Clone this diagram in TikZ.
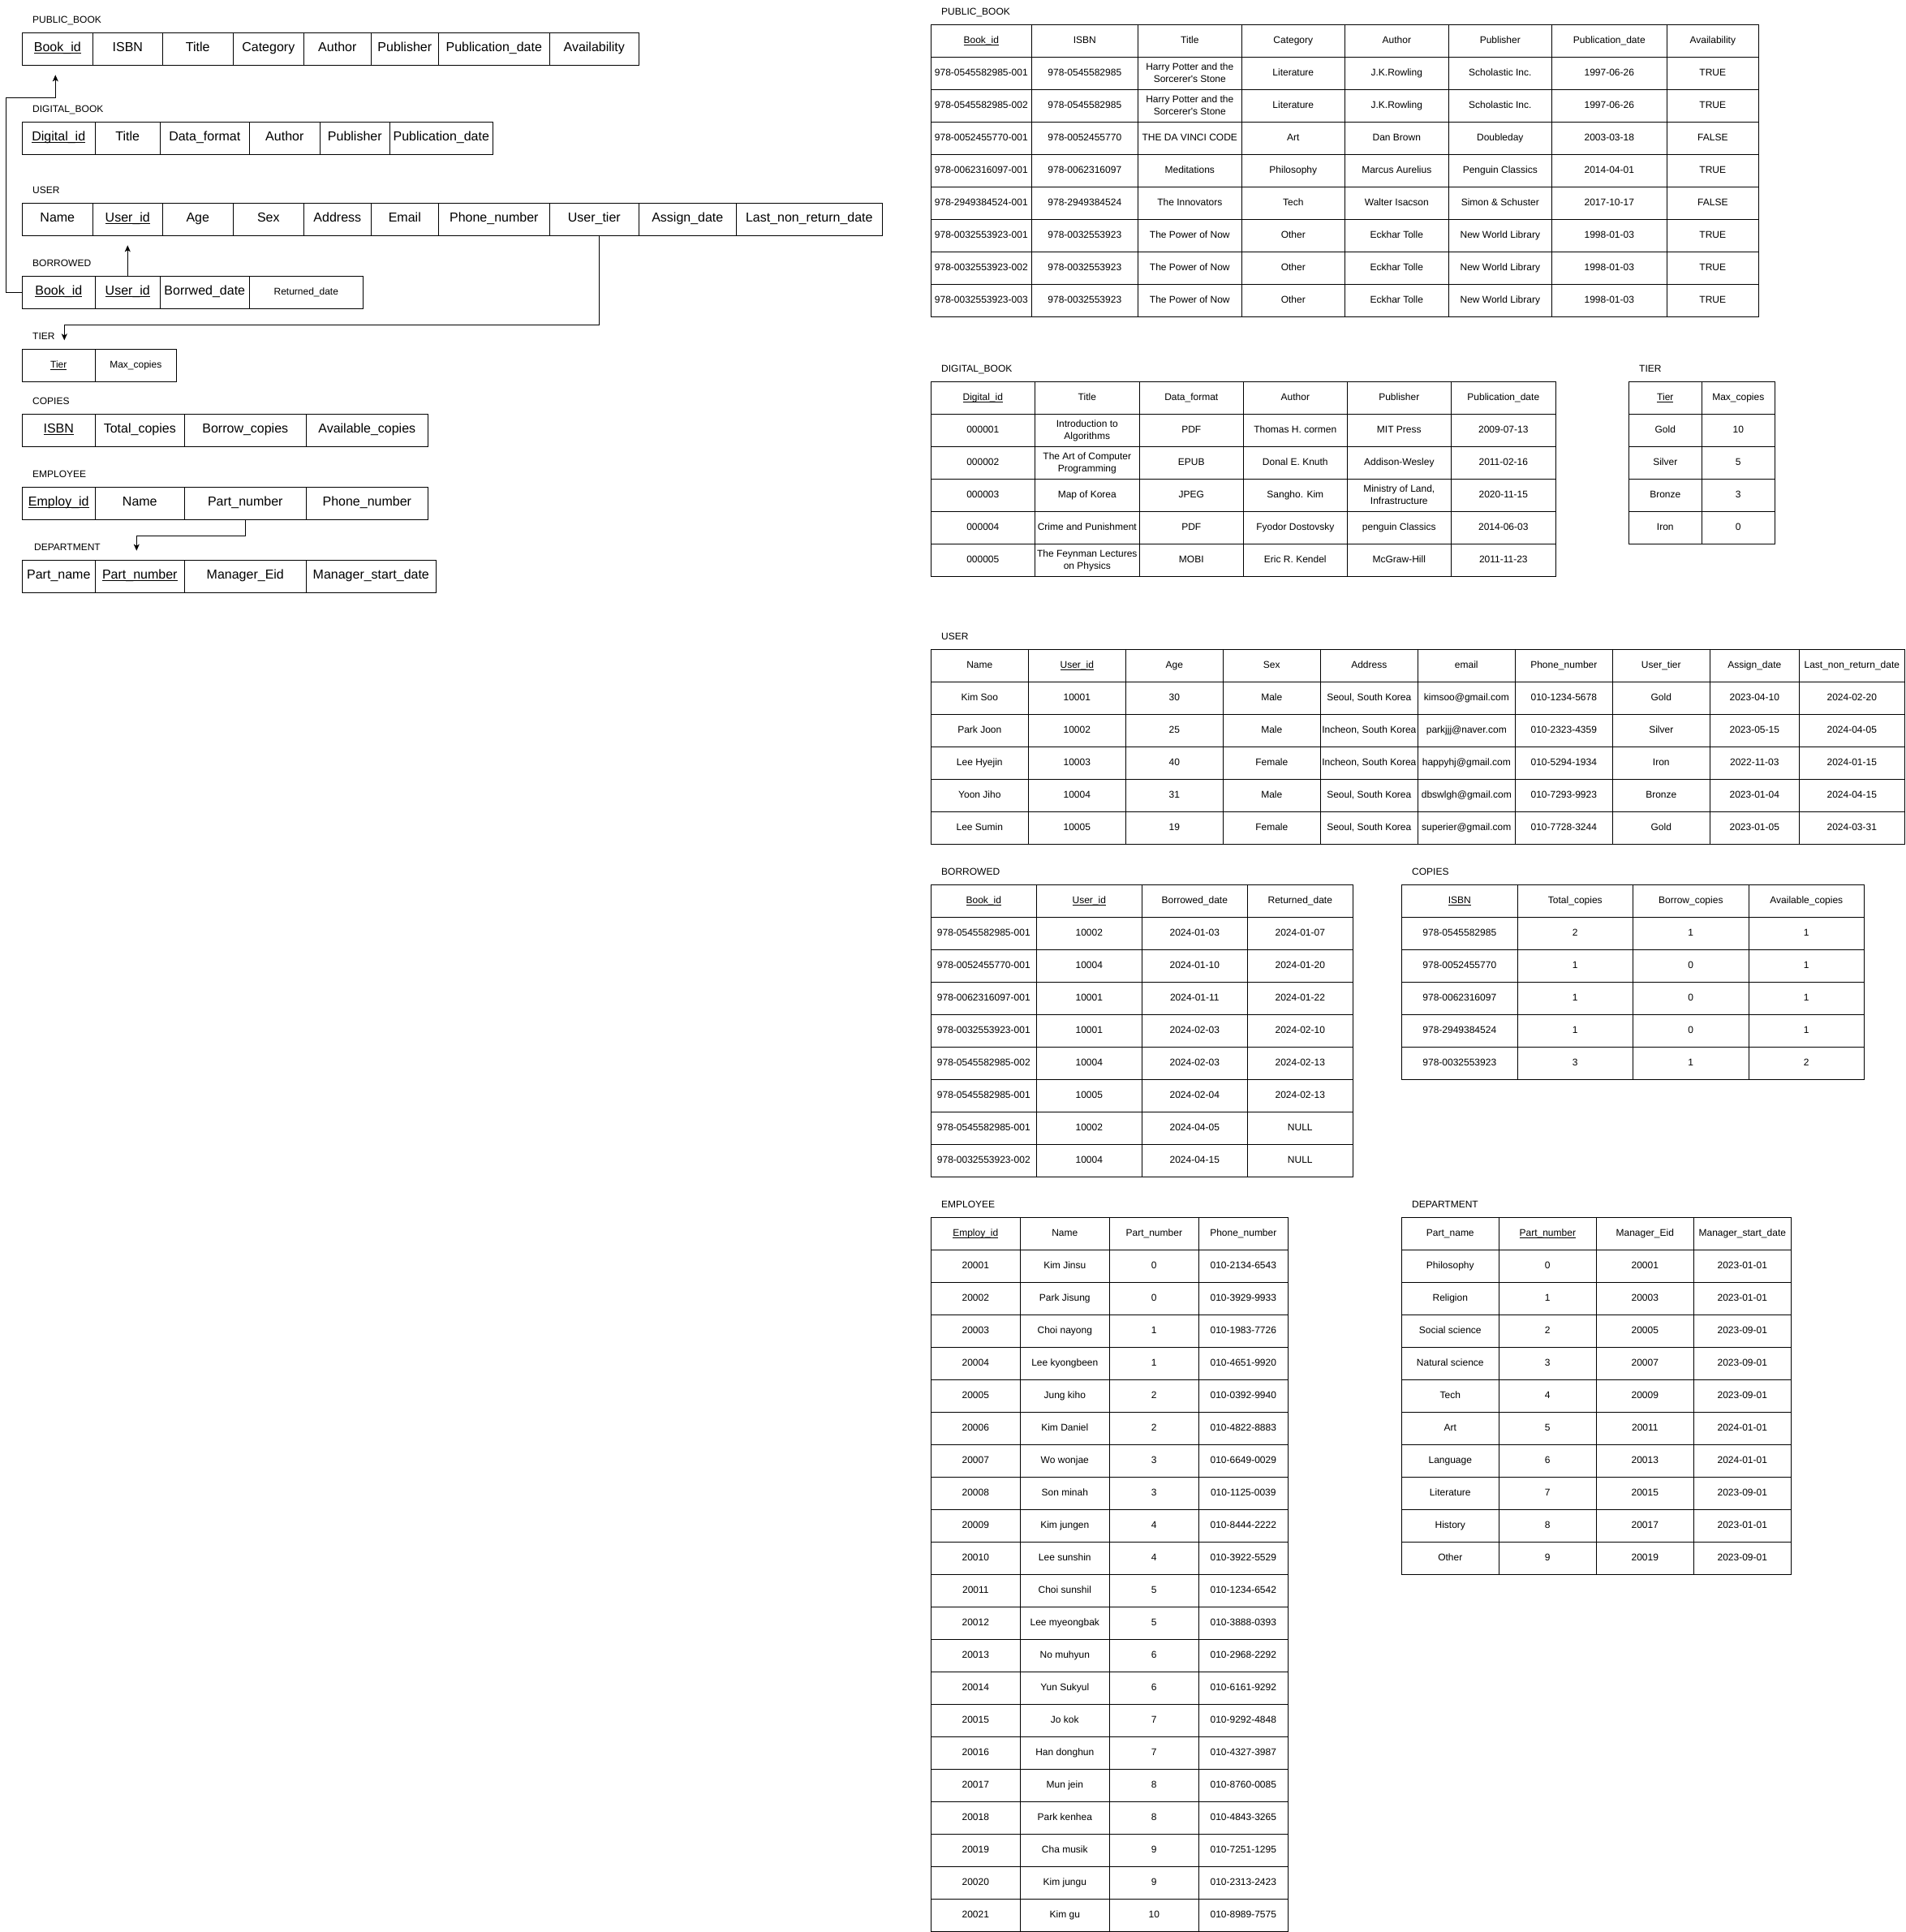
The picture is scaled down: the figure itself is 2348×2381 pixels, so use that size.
\documentclass[tikz,border=0pt]{standalone}
\usepackage{fontspec}
\setmainfont{Liberation Sans}
\usetikzlibrary{arrows.meta}
\newcommand\ulx[1]{\setbox0=\hbox{#1}\rlap{\rule[-0.15em]{\wd0}{0.075em}}\box0}
\newcommand\two[2]{\raisebox{7.6pt}{\begin{tabular}[t]{@{}c@{}}#1\\#2\end{tabular}}}
\newcommand\sm{\fontsize{12}{15}\selectfont}
\newcommand\tabl[5]{%
  \foreach \rowl [count=\ri] in {#5}{%
    \foreach \cellt [count=\ci] in \rowl {%
      \pgfmathsetmacro\xl{#2[\ci-1]}%
      \pgfmathsetmacro\xr{#2[\ci]}%
      \pgfmathsetmacro\cw{\xr-\xl}%
      \pgfmathsetmacro\cx{(\xl+\xr)/2}%
      \pgfmathsetmacro\cy{#3+40*\ri-20}%
      \node[cell,#4,minimum width=\cw pt] (#1-\ri-\ci) at (\cx,\cy) {\cellt};%
    }%
  }%
}
% column boundaries
\def\Lpb{{27.3,114.3,200.3,287.3,374.3,457.3,540.3,677.3,787.3}}
\def\Ldb{{27.3,117.3,197.3,307.3,394.3,480.3,607.3}}
\def\Lus{{27.3,114.3,200.3,287.3,374.3,457.3,540.3,677.3,787.3,907.3,1087.3}}
\def\Lbr{{27.3,117.3,197.3,307.3,447.3}}
\def\Lti{{27.3,117.3,217.3}}
\def\Lco{{27.3,117.3,227.3,377.3,527.3}}
\def\Lde{{27.3,117.3,227.3,377.3,537.3}}
\def\Rpb{{1147.3,1271.3,1402.3,1530.3,1657.3,1785.3,1912.3,2054.3,2167.3}}
\def\Rdb{{1147.3,1275.3,1404.3,1532.3,1660.3,1788.3,1917.3}}
\def\Rti{{2007.3,2097.3,2187.3}}
\def\Rus{{1147.3,1267.3,1387.3,1507.3,1627.3,1747.3,1867.3,1987.3,2107.3,2217.3,2347.3}}
\def\Rbr{{1147.3,1277.3,1407.3,1537.3,1667.3}}
\def\Rco{{1727.3,1870.3,2012.3,2155.3,2297.3}}
\def\Rem{{1147.3,1257.3,1367.3,1477.3,1587.3}}
\def\Rde{{1727.3,1847.3,1967.3,2087.3,2207.3}}
\begin{document}
\begin{tikzpicture}[x=1pt,y=-1pt,
  cell/.style={draw=black,line width=1.3pt,inner sep=0pt,minimum height=40pt,
    text height=0.72em,text depth=0pt,font=\sm,text=black},
  big/.style={font=\fontsize{16}{19}\selectfont},
  lbl/.style={anchor=west,inner sep=0pt,text height=0.72em,text depth=0pt,font=\sm,text=black},
  conn/.style={draw=black,line width=1.2pt,-{Stealth[length=8pt,width=7pt,inset=2pt]}}]
\useasboundingbox (0,0) rectangle (2348,2381);
\fill[white] (0,0) rectangle (2348,2381);

% ===================== LEFT: schema =====================
\node[lbl] (tLpb) at (40,25) {PUBLIC\_BOOK};
\tabl{lpb}{\Lpb}{40.3}{big}{%
{\ulx{Book\_id},ISBN,Title,Category,Author,Publisher,Publication\_date,Availability}}

\node[lbl] (tLdb) at (40,135) {DIGITAL\_BOOK};
\tabl{ldb}{\Ldb}{150.3}{big}{%
{\ulx{Digital\_id},Title,Data\_format,Author,Publisher,Publication\_date}}

\node[lbl] (tLus) at (40,235) {USER};
\tabl{lus}{\Lus}{250.3}{big}{%
{Name,\ulx{User\_id},Age,Sex,Address,Email,Phone\_number,User\_tier,Assign\_date,Last\_non\_return\_date}}

\node[lbl] (tLbr) at (40,325) {BORROWED};
\tabl{lbr}{\Lbr}{340.3}{big}{%
{\ulx{Book\_id},\ulx{User\_id},Borrwed\_date,{\sm Returned\_date}}}

\node[lbl] (tLti) at (40,415) {TIER};
\tabl{lti}{\Lti}{430.3}{}{%
{\ulx{Tier},Max\_copies}}

\node[lbl] (tLco) at (40,495) {COPIES};
\tabl{lco}{\Lco}{510.3}{big}{%
{\ulx{ISBN},Total\_copies,Borrow\_copies,Available\_copies}}

\node[lbl] (tLem) at (40,585) {EMPLOYEE};
\tabl{lem}{\Lco}{600.3}{big}{%
{\ulx{Employ\_id},Name,Part\_number,Phone\_number}}

\node[lbl] (tLde) at (42,675) {DEPARTMENT};
\tabl{lde}{\Lde}{690.3}{big}{%
{Part\_name,\ulx{Part\_number},Manager\_Eid,Manager\_start\_date}}

% connectors
\coordinate (k1) at (7.3,120.3);
\draw[conn,shorten >=11.4pt] (lbr-1-1.west) -| (k1) -| ([xshift=-2.5pt]lpb-1-1.south);
\draw[conn,shorten >=11.4pt] (lbr-1-2.north) -- (lus-1-2.south);
\coordinate (k3) at (738.3,400.3);
\draw[conn,shorten >=10.3pt] ([xshift=6pt]lus-1-8.south) -- (k3) -| ([xshift=7pt]lti-1-1.north);
\coordinate (k4) at (302.3,660.3);
\draw[conn,shorten >=11pt] (lem-1-3.south) -- (k4) -| ([xshift=-4pt]lde-1-2.north);

% ===================== RIGHT: instances =====================
\node[lbl] (tRpb) at (1160,15) {PUBLIC\_BOOK};
\tabl{rpb}{\Rpb}{30.3}{}{%
{\ulx{Book\_id},ISBN,Title,Category,Author,Publisher,Publication\_date,Availability},%
{978-0545582985-001,978-0545582985,\two{Harry Potter and the}{Sorcerer\textquotesingle s Stone},Literature,J.K.Rowling,Scholastic Inc.,1997-06-26,TRUE},%
{978-0545582985-002,978-0545582985,\two{Harry Potter and the}{Sorcerer\textquotesingle s Stone},Literature,J.K.Rowling,Scholastic Inc.,1997-06-26,TRUE},%
{978-0052455770-001,978-0052455770,THE DA VINCI CODE,Art,Dan Brown,Doubleday,2003-03-18,FALSE},%
{978-0062316097-001,978-0062316097,Meditations,Philosophy,Marcus Aurelius,Penguin Classics,2014-04-01,TRUE},%
{978-2949384524-001,978-2949384524,The Innovators,Tech,Walter Isacson,Simon \& Schuster,2017-10-17,FALSE},%
{978-0032553923-001,978-0032553923,The Power of Now,Other,Eckhar Tolle,New World Library,1998-01-03,TRUE},%
{978-0032553923-002,978-0032553923,The Power of Now,Other,Eckhar Tolle,New World Library,1998-01-03,TRUE},%
{978-0032553923-003,978-0032553923,The Power of Now,Other,Eckhar Tolle,New World Library,1998-01-03,TRUE}}

\node[lbl] (tRdb) at (1160,455) {DIGITAL\_BOOK};
\tabl{rdb}{\Rdb}{470.3}{}{%
{\ulx{Digital\_id},Title,Data\_format,Author,Publisher,Publication\_date},%
{000001,\two{Introduction to}{Algorithms},PDF,Thomas H. cormen,MIT Press,2009-07-13},%
{000002,\two{The Art of Computer}{Programming},EPUB,Donal E. Knuth,Addison-Wesley,2011-02-16},%
{000003,Map of Korea,JPEG,Sangho. Kim,\two{Ministry of Land,}{Infrastructure},2020-11-15},%
{000004,Crime and Punishment,PDF,Fyodor Dostovsky,penguin Classics,2014-06-03},%
{000005,\two{The Feynman Lectures}{on Physics},MOBI,Eric R. Kendel,McGraw-Hill,2011-11-23}}

\node[lbl] (tRti) at (2020,455) {TIER};
\tabl{rti}{\Rti}{470.3}{}{%
{\ulx{Tier},Max\_copies},%
{Gold,10},%
{Silver,5},%
{Bronze,3},%
{Iron,0}}

\node[lbl] (tRus) at (1160,785) {USER};
\tabl{rus}{\Rus}{800.3}{}{%
{Name,\ulx{User\_id},Age,Sex,Address,email,Phone\_number,User\_tier,Assign\_date,Last\_non\_return\_date},%
{Kim Soo,10001,30,Male,{Seoul, South Korea},kimsoo@gmail.com,010-1234-5678,Gold,2023-04-10,2024-02-20},%
{Park Joon,10002,25,Male,{Incheon, South Korea},parkjjj@naver.com,010-2323-4359,Silver,2023-05-15,2024-04-05},%
{Lee Hyejin,10003,40,Female,{Incheon, South Korea},happyhj@gmail.com,010-5294-1934,Iron,2022-11-03,2024-01-15},%
{Yoon Jiho,10004,31,Male,{Seoul, South Korea},dbswlgh@gmail.com,010-7293-9923,Bronze,2023-01-04,2024-04-15},%
{Lee Sumin,10005,19,Female,{Seoul, South Korea},superier@gmail.com,010-7728-3244,Gold,2023-01-05,2024-03-31}}

\node[lbl] (tRbr) at (1160,1075) {BORROWED};
\tabl{rbr}{\Rbr}{1090.3}{}{%
{\ulx{Book\_id},\ulx{User\_id},Borrowed\_date,Returned\_date},%
{978-0545582985-001,10002,2024-01-03,2024-01-07},%
{978-0052455770-001,10004,2024-01-10,2024-01-20},%
{978-0062316097-001,10001,2024-01-11,2024-01-22},%
{978-0032553923-001,10001,2024-02-03,2024-02-10},%
{978-0545582985-002,10004,2024-02-03,2024-02-13},%
{978-0545582985-001,10005,2024-02-04,2024-02-13},%
{978-0545582985-001,10002,2024-04-05,NULL},%
{978-0032553923-002,10004,2024-04-15,NULL}}

\node[lbl] (tRco) at (1740,1075) {COPIES};
\tabl{rco}{\Rco}{1090.3}{}{%
{\ulx{ISBN},Total\_copies,Borrow\_copies,Available\_copies},%
{978-0545582985,2,1,1},%
{978-0052455770,1,0,1},%
{978-0062316097,1,0,1},%
{978-2949384524,1,0,1},%
{978-0032553923,3,1,2}}

\node[lbl] (tRem) at (1160,1485) {EMPLOYEE};
\tabl{rem}{\Rem}{1500.3}{}{%
{\ulx{Employ\_id},Name,Part\_number,Phone\_number},%
{20001,Kim Jinsu,0,010-2134-6543},%
{20002,Park Jisung,0,010-3929-9933},%
{20003,Choi nayong,1,010-1983-7726},%
{20004,Lee kyongbeen,1,010-4651-9920},%
{20005,Jung kiho,2,010-0392-9940},%
{20006,Kim Daniel,2,010-4822-8883},%
{20007,Wo wonjae,3,010-6649-0029},%
{20008,Son minah,3,010-1125-0039},%
{20009,Kim jungen,4,010-8444-2222},%
{20010,Lee sunshin,4,010-3922-5529},%
{20011,Choi sunshil,5,010-1234-6542},%
{20012,Lee myeongbak,5,010-3888-0393},%
{20013,No muhyun,6,010-2968-2292},%
{20014,Yun Sukyul,6,010-6161-9292},%
{20015,Jo kok,7,010-9292-4848},%
{20016,Han donghun,7,010-4327-3987},%
{20017,Mun jein,8,010-8760-0085},%
{20018,Park kenhea,8,010-4843-3265},%
{20019,Cha musik,9,010-7251-1295},%
{20020,Kim jungu,9,010-2313-2423},%
{20021,Kim gu,10,010-8989-7575}}

\node[lbl] (tRde) at (1740,1485) {DEPARTMENT};
\tabl{rde}{\Rde}{1500.3}{}{%
{Part\_name,\ulx{Part\_number},Manager\_Eid,Manager\_start\_date},%
{Philosophy,0,20001,2023-01-01},%
{Religion,1,20003,2023-01-01},%
{Social science,2,20005,2023-09-01},%
{Natural science,3,20007,2023-09-01},%
{Tech,4,20009,2023-09-01},%
{Art,5,20011,2024-01-01},%
{Language,6,20013,2024-01-01},%
{Literature,7,20015,2023-09-01},%
{History,8,20017,2023-01-01},%
{Other,9,20019,2023-09-01}}
\end{tikzpicture}
\end{document}
